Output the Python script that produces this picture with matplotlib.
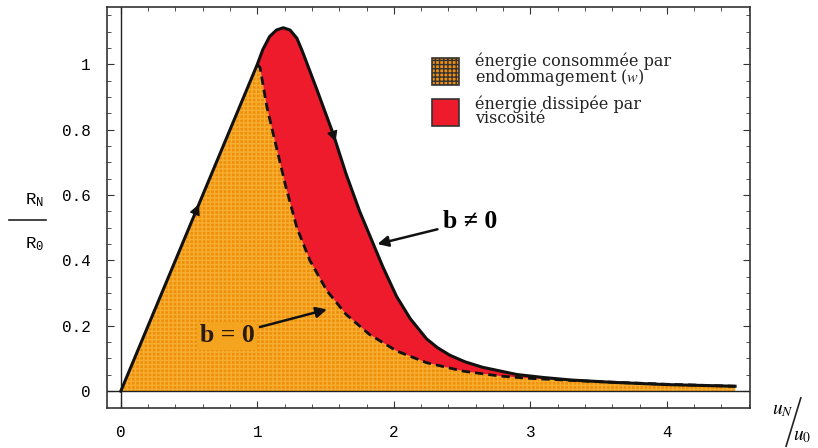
import numpy as np
import matplotlib.pyplot as plt
from matplotlib.patches import Rectangle
from matplotlib.lines import Line2D

plt.rcParams['mathtext.fontset'] = 'stix'

# montée élastique (commune aux deux cas)
rise_x = [0.0, 1.0]
rise_y = [0.0, 1.0]

# b != 0 (trait plein) après x = 1
visc_x = [1.0, 1.04, 1.09, 1.14, 1.19, 1.24, 1.29, 1.33, 1.43, 1.556, 1.65, 1.75, 1.85, 1.92,
          2.02, 2.12, 2.24, 2.32, 2.41, 2.52, 2.65, 2.9, 3.09, 3.3, 3.6, 4.0, 4.5]
visc_y = [1.0, 1.045, 1.085, 1.105, 1.112, 1.105, 1.08, 1.04, 0.93, 0.787, 0.665, 0.55, 0.45, 0.38,
          0.29, 0.222, 0.16, 0.133, 0.11, 0.09, 0.073, 0.051, 0.042, 0.034, 0.027, 0.02, 0.015]

# b = 0 (pointillés)
dmg_x = [1.0, 1.02, 1.07, 1.14, 1.21, 1.29, 1.385, 1.51, 1.65, 1.82, 2.02, 2.24, 2.51, 2.78,
         3.0, 3.5, 4.0, 4.5]
dmg_y = [1.0, 0.99, 0.87, 0.746, 0.624, 0.50, 0.40, 0.307, 0.235, 0.174, 0.123, 0.087, 0.061,
         0.046, 0.039, 0.029, 0.021, 0.015]

xticks = [0, 1, 2, 3, 4]
yticks = [0, 0.2, 0.4, 0.6, 0.8, 1]
ytick_labels = ['0', '0.2', '0.4', '0.6', '0.8', '1']

orange = '#F0900A'
red = '#EE1B2C'

fig = plt.figure(figsize=(8.18, 4.48), dpi=100)
ax = fig.add_axes([0.131, 0.089, 0.786, 0.895])

env_x = np.array(rise_x + dmg_x[1:])
env_y = np.array(rise_y + dmg_y[1:])
ax.fill_between(env_x, 0, env_y, facecolor=orange, edgecolor='#F6AE32', hatch='++++', lw=0, zorder=1)
ax.fill(visc_x + dmg_x[::-1], visc_y + dmg_y[::-1], color=red, lw=0, zorder=1)

ax.plot(rise_x + visc_x[1:], rise_y + visc_y[1:], color='#111111', lw=2.2, zorder=3,
        solid_joinstyle='round')
ax.plot(dmg_x, dmg_y, color='#111111', lw=2, ls=(0, (3, 1.8)), zorder=3)

# axes internes
ax.axhline(0, color='#222222', lw=1, zorder=2)
ax.axvline(0, color='#222222', lw=1, zorder=2)

# flèches de parcours
arr = dict(arrowstyle='-|>', color='#111111', lw=1, mutation_scale=16)
ax.annotate('', xy=(0.58, 0.58), xytext=(0.50, 0.50), arrowprops=arr, zorder=4)
ax.annotate('', xy=(1.58, 0.755), xytext=(1.52, 0.83), arrowprops=arr, zorder=4)

ax.annotate('b ≠ 0', xy=(1.88, 0.45), xytext=(2.36, 0.52), fontsize=18.5, fontweight='bold',
            family=['Liberation Serif', 'DejaVu Serif'], va='center', ha='left',
            arrowprops=dict(arrowstyle='-|>', color='#111111', lw=1.8, mutation_scale=16,
                            shrinkA=2, shrinkB=0), zorder=5)
ax.annotate('b = 0', xy=(1.51, 0.25), xytext=(0.78, 0.17), fontsize=18.5, fontweight='bold',
            family='Liberation Serif', va='center', ha='center', color='#2a1a10',
            bbox=dict(boxstyle='square,pad=0.1', fc='#F4A41E', ec='none'),
            arrowprops=dict(arrowstyle='-|>', color='#111111', lw=1.8, mutation_scale=16,
                            shrinkA=2, shrinkB=0), zorder=5)

# légende
lx0, lw_, lh = 0.5054, 0.042, 0.067
ax.add_patch(Rectangle((lx0, 0.8055), lw_, lh, transform=ax.transAxes, fc=orange,
                       ec='#333333', lw=1.2, hatch='++++', zorder=5))
ax.add_patch(Rectangle((lx0, 0.7032), lw_, lh, transform=ax.transAxes, fc=red,
                       ec='#333333', lw=1.2, zorder=5))
ax.text(0.572, 0.842, 'énergie consommée par\nendommagement ($w$)', transform=ax.transAxes,
        family='DejaVu Serif', fontsize=11.5, va='center', linespacing=0.8, color='#222222')
ax.text(0.572, 0.740, 'énergie dissipée par\nviscosité', transform=ax.transAxes,
        family='DejaVu Serif', fontsize=11.5, va='center', linespacing=0.8, color='#222222')

ax.set_xlim(-0.1, 4.61)
ax.set_ylim(-0.052, 1.175)
ax.set_xticks(xticks)
ax.set_xticklabels([str(t) for t in xticks])
ax.set_xticks(np.arange(0, 4.61, 0.2), minor=True)
ax.set_yticks(yticks)
ax.set_yticklabels(ytick_labels)
ax.set_yticks(np.arange(0, 1.17, 0.05), minor=True)
ax.tick_params(which='both', direction='in', top=True, right=True, color='#333333')
ax.tick_params(which='major', length=5, pad=12, labelsize=11.5)
ax.tick_params(which='minor', length=3)
for lab in ax.get_xticklabels() + ax.get_yticklabels():
    lab.set_family('Liberation Mono')
for s in ax.spines.values():
    s.set_color('#333333')
    s.set_linewidth(1.2)

# R_N / R_0
fig.text(0.042, 0.553, r'R$_\mathregular{N}$', family='Liberation Mono', fontsize=12.5,
         ha='center', va='center')
fig.add_artist(Line2D([0.011, 0.056], [0.508, 0.508], color='#222222', lw=1.2))
fig.text(0.042, 0.455, r'R$_\mathregular{0}$', family='Liberation Mono', fontsize=12.5,
         ha='center', va='center')

# u_N / u_0
fig.text(0.944, 0.085, r'$u_{N}$', fontsize=14, ha='left', va='center')
fig.add_artist(Line2D([0.979, 0.961], [0.112, 0.004], color='#222222', lw=1.2))
fig.text(0.969, 0.028, r'$u_0$', fontsize=14, ha='left', va='center')

fig.savefig('out.png', dpi=100)
